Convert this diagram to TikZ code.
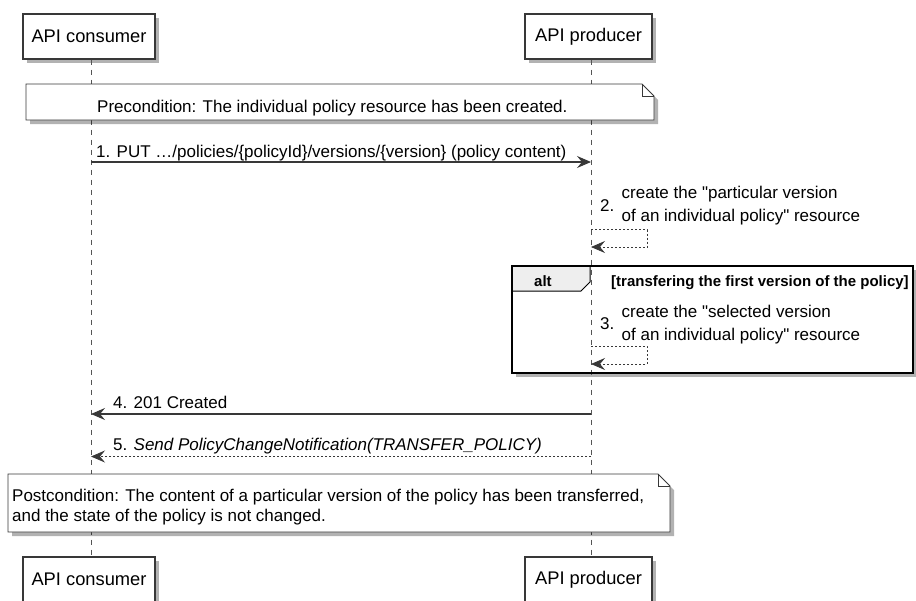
\documentclass[tikz,border=0pt]{standalone}
\usepackage{fontspec}
\setmainfont{Liberation Sans}
\usetikzlibrary{arrows.meta,shadows}
\definecolor{lc}{HTML}{383838}
\definecolor{llc}{HTML}{555555}
\definecolor{tabgray}{HTML}{EEEEEE}
\begin{document}
\begin{tikzpicture}[x=1pt,y=-1pt,
  font=\fontsize{17}{20}\selectfont,
  shad/.style={drop shadow={shadow xshift=4pt,shadow yshift=-4pt,fill=black,opacity=.3}},
  partbox/.style={draw=lc,line width=1.2pt,fill=white,minimum height=45pt,inner sep=0pt,shad,font=\fontsize{18.3}{21}\selectfont},
  lifeline/.style={draw=llc,line width=0.9pt,dash pattern=on 5pt off 5pt},
  notebox/.style={draw=lc,line width=0.9pt,fill=white,shad},
  txt/.style={inner sep=0pt,anchor=base west},
  msg/.style={draw=lc,line width=1.1pt,-{Stealth[length=14pt,width=12pt,inset=5pt]}},
  rmsg/.style={msg,line width=0.8pt,dash pattern=on 2pt off 2pt},
  boldtxt/.style={txt,font=\fontsize{15}{18}\selectfont\bfseries}
]
\useasboundingbox (0,0) rectangle (916,600);

% alt frame (behind lifelines)
\filldraw[fill=white,draw=black,line width=2pt,shad] (512,266) rectangle (913,373);

% participants
\node[partbox,minimum width=132pt] (c1) at (89,36.5) {API consumer};
\node[partbox,minimum width=127pt] (p1) at (588.5,36.5) {API producer};
\node[partbox,minimum width=132pt] (c2) at (89,579.5) {API consumer};
\node[partbox,minimum width=127pt] (p2) at (588.5,579.5) {API producer};

% lifelines
\draw[lifeline] ([xshift=2pt]c1.south) -- ([xshift=2pt]c2.north);
\draw[lifeline] ([xshift=2.5pt]p1.south) -- ([xshift=2.5pt]p2.north);

% frame border and tab above lifelines
\filldraw[fill=tabgray,draw=black,line width=1pt] (512,266) -- (590,266) -- (590,282) -- (581,291) -- (512,291) -- cycle;
\draw[draw=black,line width=2pt] (512,266) rectangle (913,373);
\node[boldtxt] (altlbl) at (534,286) {alt};
\node[boldtxt] (altcond) at (611,286) {[transfering the first version of the policy]};

% precondition note
\filldraw[notebox] (26,84) -- (642,84) -- (654,96) -- (654,120) -- (26,120) -- cycle;
\draw[draw=lc,line width=0.9pt] (642,84) -- (642,96) -- (654,96);
\node[txt] (pre) at (97,112) {Precondition: The individual policy resource has been created.};

% message coordinates
\coordinate (m1a) at (91,162);   \coordinate (m1b) at (591,162);
\coordinate (m2a) at (591,229.5); \coordinate (m2r) at (647,229.5); \coordinate (m2s) at (647,247); \coordinate (m2b) at (591,247);
\coordinate (m3a) at (591,346); \coordinate (m3r) at (647,346); \coordinate (m3s) at (647,364); \coordinate (m3b) at (591,364);
\coordinate (m4a) at (591,414);  \coordinate (m4b) at (91,414);
\coordinate (m5a) at (591,456.5); \coordinate (m5b) at (91,456.5);

% 1
\draw[msg] (m1a) -- (m1b);
\node[txt] (t1) at (96,157) {1. PUT …/policies/\{policyId\}/versions/\{version\} (policy content)};
% 2
\draw[rmsg] (m2a) -- (m2r) -- (m2s) -- (m2b);
\node[txt] (n2) at (600,211) {2.};
\node[txt] (t2a) at (621.5,198) {create the \textquotedbl particular version};
\node[txt] (t2b) at (621.5,221) {of an individual policy\textquotedbl{} resource};
% 3
\draw[rmsg] (m3a) -- (m3r) -- (m3s) -- (m3b);
\node[txt] (n3) at (600,329.5) {3.};
\node[txt] (t3a) at (621.5,317) {create the \textquotedbl selected version};
\node[txt] (t3b) at (621.5,340.5) {of an individual policy\textquotedbl{} resource};
% 4
\draw[msg] (m4a) -- (m4b);
\node[txt] (t4) at (113,408.5) {4. 201 Created};
% 5
\draw[rmsg] (m5a) -- (m5b);
\node[txt] (t5) at (113,450.5) {5. \textit{Send PolicyChangeNotification(TRANSFER\_POLICY)}};

% postcondition note
\filldraw[notebox] (8,474) -- (658,474) -- (670,486) -- (670,532) -- (8,532) -- cycle;
\draw[draw=lc,line width=0.9pt] (658,474) -- (658,486) -- (670,486);
\node[txt] (post1) at (12,501) {Postcondition: The content of a particular version of the policy has been transferred,};
\node[txt] (post2) at (12,521) {and the state of the policy is not changed.};
\end{tikzpicture}
\end{document}
